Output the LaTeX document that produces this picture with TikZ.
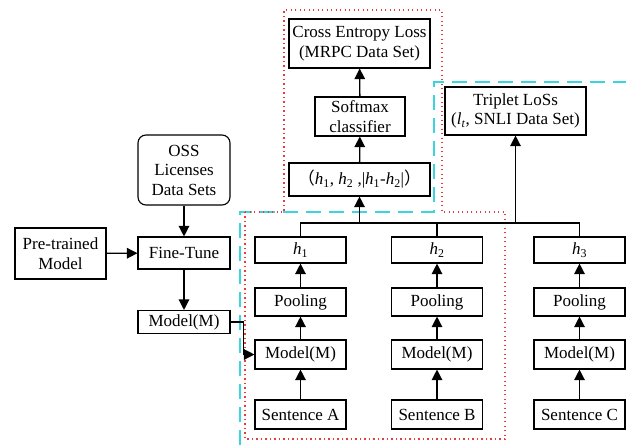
\documentclass[tikz,border=0pt]{standalone}
\usepackage{fontspec}
\setmainfont{Liberation Serif}
\newfontfamily\cjkfont{Noto Sans CJK SC}
\usetikzlibrary{arrows.meta}
\definecolor{regred}{RGB}{232,60,60}
\definecolor{regcyan}{RGB}{60,212,222}
\newcommand\hsub[1]{\textit{h}\textsubscript{#1}}
\begin{document}
\begin{tikzpicture}[x=1pt,y=-1pt,
  box/.style={draw, line width=1.1pt, inner sep=0pt, align=center, font=\fontsize{17}{19.5}\selectfont},
  conn/.style={line width=1.3pt, -{Triangle[length=10.5pt,width=10.5pt]}},
  plain/.style={line width=1.3pt}]
\useasboundingbox (0,0) rectangle (626,445);
% region outlines
\draw[regcyan, line width=2pt, dash pattern=on 15pt off 8pt]
  (240,445) -- (240,212) -- (434,212) -- (434,82) -- (626,82);
\draw[regred, line width=1.4pt, dash pattern=on 1.3pt off 3.2pt]
  (245,212) -- (284,212) -- (284,10) -- (442,10) -- (442,212) -- (505,212) -- (505,439) -- (245,439) -- cycle;
% left part
\node[box, rounded corners=8pt, minimum width=92pt, minimum height=70pt] (oss) at (184,170) {OSS\\Licenses\\Data Sets};
\node[box, minimum width=91pt, minimum height=51pt] (pre) at (60.5,253.5) {Pre-trained\\Model};
\node[box, minimum width=92pt, minimum height=32pt] (ft) at (184,253) {Fine-Tune};
\node[box, minimum width=92pt, minimum height=23pt] (mm) at (184,322) {Model(M)};
% top
\node[box, minimum width=141pt, minimum height=49pt] (ce) at (359.5,43.5) {Cross Entropy Loss\\(MRPC Data Set)};
\node[box, minimum width=90pt, minimum height=39pt] (sm) at (360,116.5) {Softmax\\classifier};
\node[box, minimum width=141pt, minimum height=33pt] (hh) at (359.5,179.5) {{\cjkfont（}\hsub{1}, \hsub{2} ,|\hsub{1}-\hsub{2}|{\cjkfont）}};
\node[box, minimum width=141pt, minimum height=48pt] (trip) at (515.5,111) {Triplet LoSs\\(\textit{l}\textsubscript{\textit{t}}, SNLI Data Set)};
% columns
\foreach \n/\x/\h/\s in {a/300.5/1/A, b/437/2/B, c/579.5/3/C}{
  \node[box, minimum width=91pt, minimum height=26pt] (h\n) at (\x,250) {\hsub{\h}};
  \node[box, minimum width=91pt, minimum height=28pt] (p\n) at (\x,302) {Pooling};
  \node[box, minimum width=91pt, minimum height=29pt] (m\n) at (\x,354.5) {Model(M)};
  \node[box, minimum width=91pt, minimum height=29pt] (s\n) at (\x,414.5) {Sentence \s};
  \draw[conn] (s\n) -- (m\n);
  \draw[conn] (m\n) -- (p\n);
  \draw[conn] (p\n) -- (h\n);
}
\coordinate (bus) at (0,223);
\draw[plain] (ha.north) -- (ha.north |- bus) -- (hc.north |- bus) -- (hc.north);
\draw[plain] (hb.north) -- (hb.north |- bus);
\draw[conn] (hh.south |- bus) -- (hh.south);
\draw[conn] (trip.south |- bus) -- (trip.south);
\draw[conn] (hh) -- (sm);
\draw[conn] (sm) -- (ce);
% left connectors
\draw[conn] (oss) -- (ft);
\draw[conn] (pre) -- (ft);
\draw[conn] (ft) -- (mm);
\draw[conn] (mm.east) -- ++(13,0) |- (ma.west);
\end{tikzpicture}
\end{document}
